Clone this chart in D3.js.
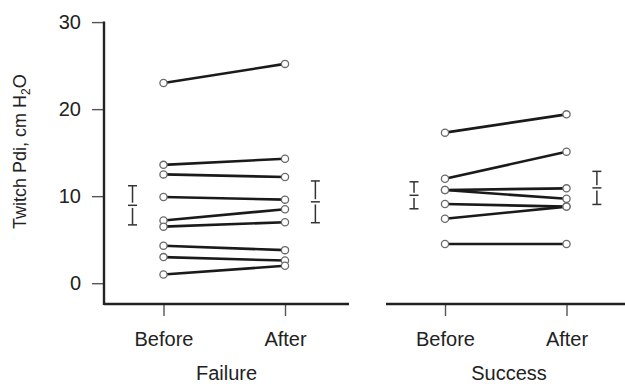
<!DOCTYPE html>
<html>
<head>
<meta charset="utf-8">
<script src="https://cdn.jsdelivr.net/npm/d3@7"></script>
<style>
  html, body { margin: 0; padding: 0; background: #fff; }
  svg { display: block; }
  text { font-family: "Liberation Sans", Arial, Helvetica, sans-serif; fill: #222; }
</style>
</head>
<body>
<svg id="chart" width="625" height="384"></svg>
<script>
// Twitch Pdi before and after, paired per subject, by outcome group
const groups = ["Failure", "Success"];
const conditions = ["Before", "After"];
const yTicks = [0, 10, 20, 30];

const failureBefore = [23.0, 13.6, 12.5, 9.9, 7.2, 6.5, 4.3, 3.0, 1.0];
const failureAfter  = [25.2, 14.3, 12.2, 9.6, 8.5, 7.0, 3.8, 2.6, 2.0];
const successBefore = [17.3, 12.0, 10.7, 10.7, 9.1, 7.4, 4.5];
const successAfter  = [19.4, 15.1, 10.9, 9.7, 8.8, 8.8, 4.5];

// group mean and spread (Before, After)
const failureMean = [8.95, 9.35];
const failureErr  = [2.25, 2.4];
const successMean = [10.1, 10.95];
const successErr  = [1.55, 1.9];

const svg = d3.select("#chart");

const y = d3.scaleLinear().domain([0, 30]).range([283.2, 22.1]);
const axisBottomY = 304;

const panels = [
  { name: groups[0], before: failureBefore, after: failureAfter, mean: failureMean, err: failureErr,
    range: [163.5, 285], extent: [104, 349] },
  { name: groups[1], before: successBefore, after: successAfter, mean: successMean, err: successErr,
    range: [445, 566.5], extent: [386, 632] }
];

// y axis (left panel only)
const yAxis = d3.axisLeft(y).tickValues(yTicks).tickSize(12).tickPadding(11);
const gy = svg.append("g").attr("transform", "translate(104,0)").call(yAxis);
gy.select(".domain").remove();
gy.selectAll(".tick line").attr("stroke", "#555").attr("stroke-width", 1.4);
gy.selectAll(".tick text").style("font-size", "20px").attr("fill", "#222")
  .style("font-family", '"Liberation Sans", Arial, sans-serif');
svg.append("line")
  .attr("x1", 104).attr("x2", 104)
  .attr("y1", y(30) - 0.5).attr("y2", axisBottomY + 1)
  .attr("stroke", "#222").attr("stroke-width", 2.4);

// y axis title with subscript
const yt = svg.append("text")
  .attr("transform", `translate(26,${(y(0) + y(30)) / 2 - 1}) rotate(-90)`)
  .attr("text-anchor", "middle")
  .style("font-size", "18px");
yt.append("tspan").text("Twitch Pdi, cm H");
yt.append("tspan").attr("dy", 4).style("font-size", "12px").text("2");
yt.append("tspan").attr("dy", -4).text("O");

panels.forEach(p => {
  // position scale: Before = 0, After = 1; error bars sit outside at -0.25 / 1.25
  const x = d3.scaleLinear().domain([0, 1]).range(p.range);
  const xc = d3.scalePoint().domain(conditions).range(p.range);
  const g = svg.append("g");

  // bottom axis
  const xAxis = d3.axisBottom(xc).tickSize(12).tickPadding(16);
  const gx = g.append("g").attr("transform", `translate(0,${axisBottomY})`).call(xAxis);
  gx.select(".domain").remove();
  gx.selectAll(".tick line").attr("stroke", "#555").attr("stroke-width", 1.4);
  gx.selectAll(".tick text").style("font-size", "20px").attr("fill", "#222")
    .style("font-family", '"Liberation Sans", Arial, sans-serif');
  g.append("line")
    .attr("x1", p.extent[0]).attr("x2", p.extent[1])
    .attr("y1", axisBottomY).attr("y2", axisBottomY)
    .attr("stroke", "#222").attr("stroke-width", 2.4);

  // group label
  g.append("text")
    .attr("x", (p.extent[0] + p.extent[1]) / 2)
    .attr("y", 379.5)
    .attr("text-anchor", "middle")
    .style("font-size", "20px")
    .text(p.name);

  // paired lines
  const pairs = p.before.map((b, i) => [b, p.after[i]]);
  g.selectAll("line.pair").data(pairs).join("line")
    .attr("class", "pair")
    .attr("x1", x(0)).attr("x2", x(1))
    .attr("y1", d => y(d[0])).attr("y2", d => y(d[1]))
    .attr("stroke", "#1a1a1a").attr("stroke-width", 2.6);

  // points
  const pts = [];
  pairs.forEach(d => { pts.push([0, d[0]]); pts.push([1, d[1]]); });
  g.selectAll("circle").data(pts).join("circle")
    .attr("cx", d => x(d[0])).attr("cy", d => y(d[1]))
    .attr("r", 3.6)
    .attr("fill", "#fff").attr("stroke", "#6a6a6a").attr("stroke-width", 1.3);

  // mean ± error bars
  const ebData = [[-0.255, p.mean[0], p.err[0]], [1.25, p.mean[1], p.err[1]]];
  const cap = 4.5, gap = 2.6;
  ebData.forEach(([pos, m, e]) => {
    const cx = x(pos);
    const eg = g.append("g").attr("stroke", "#333").attr("stroke-width", 1.5);
    eg.append("line").attr("x1", cx).attr("x2", cx).attr("y1", y(m + e)).attr("y2", y(m) - gap);
    eg.append("line").attr("x1", cx).attr("x2", cx).attr("y1", y(m) + gap).attr("y2", y(m - e));
    [m + e, m, m - e].forEach(v => {
      eg.append("line").attr("x1", cx - cap).attr("x2", cx + cap)
        .attr("y1", y(v)).attr("y2", y(v));
    });
  });
});
</script>
</body>
</html>
